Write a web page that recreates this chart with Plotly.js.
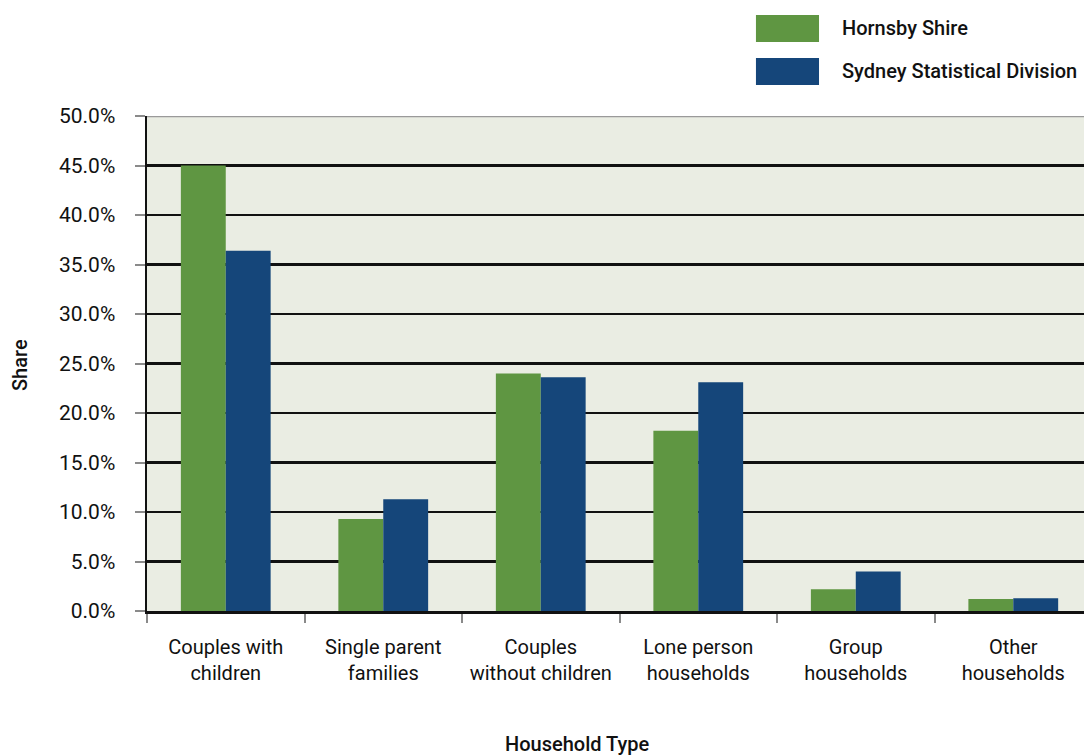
<!DOCTYPE html>
<html>
<head>
<meta charset="utf-8">
<script src="https://cdn.plot.ly/plotly-3.0.1.min.js"></script>
<style>html,body{margin:0;padding:0;background:#fff}#chart{width:1084px;height:756px}</style>
</head>
<body>
<div id="chart"></div>
<script>
const categories = ["Couples with<br>children","Single parent<br>families","Couples<br>without children","Lone person<br>households","Group<br>households","Other<br>households"];
const seriesNames = ["Hornsby Shire","Sydney Statistical Division"];
const hornsby = [45.0, 9.3, 24.0, 18.2, 2.2, 1.2];
const sydney = [36.4, 11.3, 23.6, 23.1, 4.0, 1.3];
const yTicks = [0,5,10,15,20,25,30,35,40,45,50];

const FONT = 'Roboto, "Liberation Sans", sans-serif';
const colors = ['#5f9642', '#15467a'];

const traces = [
  {type:'bar', name:seriesNames[0], x:categories, y:hornsby, marker:{color:colors[0]}, showlegend:false},
  {type:'bar', name:seriesNames[1], x:categories, y:sydney, marker:{color:colors[1]}, showlegend:false}
];

// legend drawn as swatches + text
const sw = [{y0:1.1495,y1:1.2040,ty:1.1768},{y0:1.0626,y1:1.1172,ty:1.0899}];
const shapes = sw.map((s,i)=>({type:'rect',xref:'paper',yref:'paper',x0:0.6499,x1:0.7172,y0:s.y0,y1:s.y1,fillcolor:colors[i],line:{width:0}}));
shapes.push({type:'line',xref:'paper',yref:'y',x0:0,x1:1,y0:50,y1:50,line:{color:'#9a9a9a',width:2.5},layer:'above'});
const annotations = sw.map((s,i)=>({xref:'paper',yref:'paper',x:0.7396,y:s.ty,xanchor:'left',yanchor:'middle',showarrow:false,text:seriesNames[i],font:{family:FONT,size:20,color:'#111',weight:500}}));
annotations.push({xref:'paper',yref:'paper',x:(577-147)/937,y:(611-744)/495,xanchor:'center',yanchor:'middle',showarrow:false,text:'Household Type',font:{family:FONT,size:20,color:'#111',weight:500}});
annotations.push({xref:'paper',yref:'paper',x:(20-147)/937,y:(611-365)/495,xanchor:'center',yanchor:'middle',showarrow:false,textangle:-90,text:'Share',font:{family:FONT,size:20,color:'#111',weight:500}});

const layout = {
  width:1084, height:756,
  margin:{l:147, r:0, t:116, b:145},
  paper_bgcolor:'#ffffff', plot_bgcolor:'#eaede3',
  barmode:'group', bargap:0.43, bargroupgap:0,
  font:{family:FONT, size:19, color:'#111'},
  xaxis:{type:'category', range:[-0.5,5.449], tickson:'boundaries', ticks:'outside', ticklen:9, tickwidth:2, tickcolor:'#8a8a8a', tickangle:0,
         showline:true, linecolor:'#111', linewidth:2.5, showgrid:false, tickfont:{family:FONT,size:20,color:'#111'}, ticklabelstandoff:16, fixedrange:true},
  yaxis:{range:[0,50], tickvals:yTicks, ticktext:yTicks.map(v=>v.toFixed(1)+'%'), ticks:'outside', ticklen:10, tickwidth:2, tickcolor:'#8a8a8a',
         showline:true, linecolor:'#111', linewidth:2.5, showgrid:true, gridcolor:'#111', gridwidth:2.5, zeroline:false,
         tickfont:{family:FONT,size:21,color:'#111'}, ticklabelstandoff:15, fixedrange:true},
  shapes:shapes, annotations:annotations
};
Plotly.newPlot('chart', traces, layout, {displayModeBar:false, staticPlot:true});
</script>
</body>
</html>
